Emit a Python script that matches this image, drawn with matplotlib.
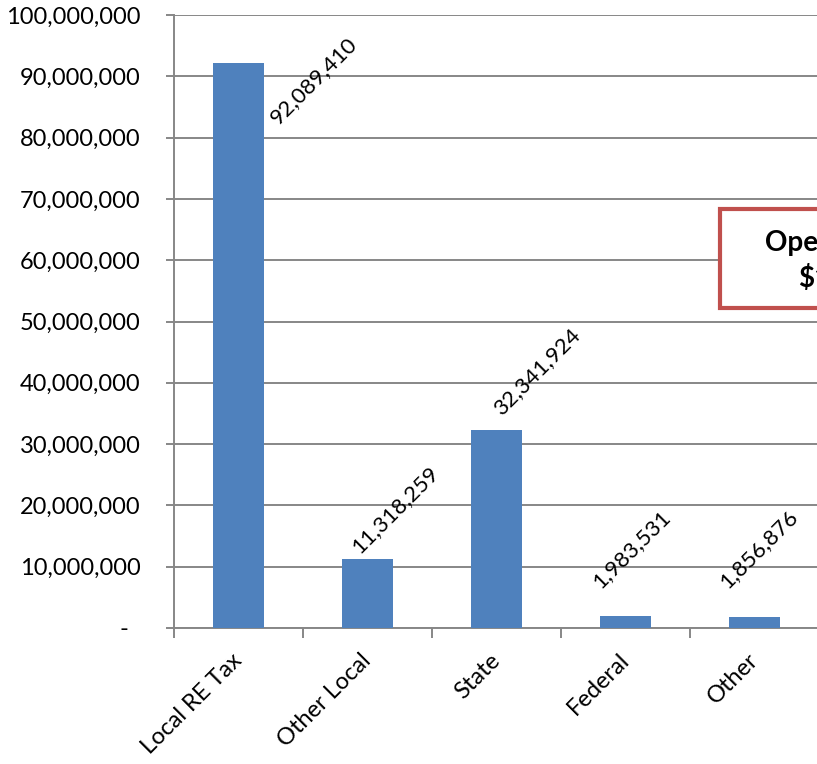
import matplotlib
matplotlib.use("Agg")
import matplotlib.pyplot as plt
from matplotlib.patches import Rectangle
from matplotlib.ticker import FuncFormatter, FixedLocator

categories = ["Local RE Tax", "Other Local", "State", "Federal", "Other"]
values = [92089410, 11318259, 32341924, 1983531, 1856876]
yticks = [0, 10000000, 20000000, 30000000, 40000000, 50000000,
          60000000, 70000000, 80000000, 90000000, 100000000]
box_lines = ["Operating Revenue", "$139,590,000"]

# label offsets (points) for the rotated value labels, centre of text
label_offsets = [(54, -12), (20, 35), (29, 42), (4, 48), (3, 49)]

plt.rcParams['font.family'] = ['Lato', 'DejaVu Sans']
W, H = 817, 764
fig = plt.figure(figsize=(W / 100, H / 100), dpi=100)
ax = fig.add_axes([174 / W, (H - 628) / H, 645 / W, 613 / H])

bar_color = "#4F81BD"
grid_color = "#878787"
x = list(range(len(categories)))
ax.bar(x, values, width=0.4, color=bar_color, zorder=3)

ax.set_xlim(-0.5, len(categories) - 0.5)
ax.set_ylim(0, 100000000)
ax.set_yticks(yticks)
ax.yaxis.set_major_formatter(FuncFormatter(lambda v, p: "-  " if v == 0 else f"{int(v):,}"))
ax.yaxis.grid(True, color=grid_color, linewidth=1.4, zorder=0)
ax.set_axisbelow(True)

for s in ["top", "right"]:
    ax.spines[s].set_visible(False)
for s in ["left", "bottom"]:
    ax.spines[s].set_color(grid_color)
    ax.spines[s].set_linewidth(1.4)

ax.tick_params(axis='y', which='major', length=6, width=1.4, color=grid_color,
               labelsize=17, pad=18)
ax.set_xticks(x)
ax.set_xticklabels(categories, rotation=45, ha='right', rotation_mode='anchor',
                   fontsize=17)
ax.tick_params(axis='x', which='major', length=0, pad=21)
ax.xaxis.set_minor_locator(FixedLocator([i - 0.5 for i in range(len(categories) + 1)]))
ax.tick_params(axis='x', which='minor', length=7, width=1.4, color=grid_color)
for lab in ax.get_xticklabels():
    lab.set_va('center')

for xi, v, off in zip(x, values, label_offsets):
    ax.annotate(f"{v:,}", xy=(xi, v), xytext=off, textcoords='offset points',
                rotation=45, rotation_mode='anchor', ha='center', va='center',
                fontsize=16, zorder=4)

# text box (partially outside figure, as in the reference)
rect = Rectangle((720 / W, (H - 308) / H), 330 / W, 99 / H, transform=fig.transFigure,
                 facecolor='white', edgecolor='#C0504D', linewidth=3, zorder=10,
                 clip_on=False)
fig.patches.append(rect)
fig.text(885 / W, 1 - 261 / H, "\n".join(box_lines), ha='center', va='center',
         fontsize=20, fontweight='bold', zorder=11, linespacing=1.3)

fig.savefig("out.png", dpi=100)
